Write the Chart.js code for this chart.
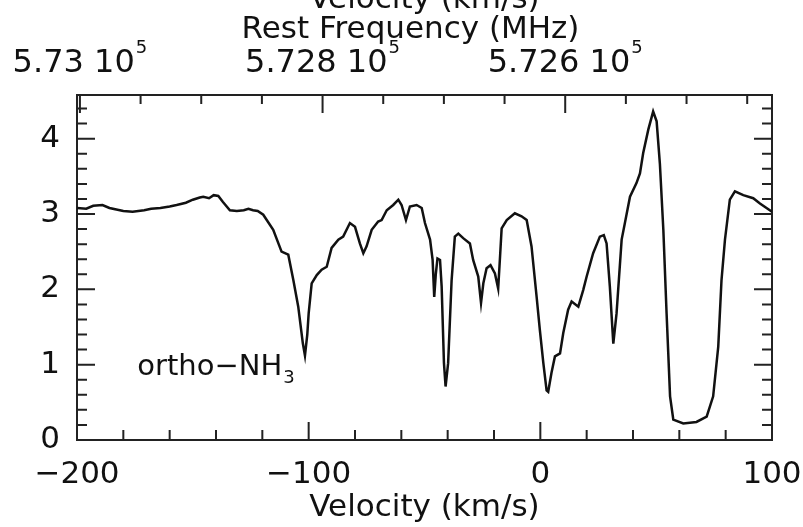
<!DOCTYPE html>
<html>
<head>
<meta charset="utf-8">
<script src="https://cdn.jsdelivr.net/npm/chart.js@4"></script>
<style>
  html, body { margin: 0; padding: 0; background: #fff; }
  canvas { display: block; }
</style>
</head>
<body>
<canvas id="chart" width="803" height="527"></canvas>
<script>
// ortho-NH3 spectrum, values
const velocity = [
  -200, -196, -193, -189, -186, -183, -180, -176, -171, -168,
  -164, -160, -157, -153, -150, -147, -145.5, -143, -141, -139,
  -137, -134, -131, -128, -126, -124, -122, -119.6, -115.3, -111.7,
  -108.8, -106.6, -104.5, -102.5, -101.6, -100.6, -100.0, -98.7, -96.5, -94.4,
  -92.2, -90.1, -87.2, -85.1, -82.2, -80.0, -77.9, -76.4, -75.0, -72.8,
  -70.0, -68.5, -66.3, -63.5, -61.3, -59.9, -58.0, -56.3, -53.4, -51.2,
  -49.8, -47.6, -46.5, -45.8, -45.1, -44.4, -43.3, -42.6, -41.6, -40.9,
  -39.8, -38.3, -36.9, -35.4, -33.3, -30.4, -29.0, -26.8, -25.6, -24.6,
  -23.2, -21.5, -19.6, -18.2, -17.4, -16.7, -14.5, -11.0, -8.1, -5.9,
  -3.8, -1.6, -0.2, 1.3, 2.7, 3.4, 4.8, 6.3, 8.5, 9.9,
  12.0, 13.5, 16.4, 18.5, 20.0, 22.8, 25.7, 27.4, 28.6, 30.0,
  31.5, 32.9, 35.1, 36.5, 38.7, 41.5, 43.0, 44.4, 46.6, 48.7,
  50.2, 51.6, 53.1, 54.5, 56.0, 57.4, 61.7, 67.4, 71.8, 74.6,
  76.8, 78.2, 79.7, 81.8, 84.0, 87.6, 91.9, 94.8, 100
];
const intensity = [
  3.08, 3.07, 3.11, 3.12, 3.08, 3.06, 3.04, 3.03, 3.05, 3.07,
  3.08, 3.10, 3.12, 3.15, 3.19, 3.22, 3.23, 3.21, 3.25, 3.24,
  3.16, 3.05, 3.04, 3.05, 3.07, 3.05, 3.04, 2.99, 2.79, 2.50,
  2.46, 2.12, 1.77, 1.28, 1.12, 1.40, 1.68, 2.08, 2.19, 2.26,
  2.30, 2.55, 2.66, 2.70, 2.88, 2.83, 2.61, 2.48, 2.57, 2.79,
  2.90, 2.92, 3.05, 3.12, 3.19, 3.12, 2.92, 3.10, 3.12, 3.08,
  2.88, 2.66, 2.39, 1.90, 2.21, 2.41, 2.39, 2.04, 1.02, 0.71,
  1.02, 2.12, 2.70, 2.74, 2.68, 2.61, 2.39, 2.17, 1.82, 2.08,
  2.28, 2.32, 2.21, 2.01, 2.43, 2.81, 2.92, 3.01, 2.97, 2.92,
  2.57, 1.90, 1.46, 1.02, 0.66, 0.64, 0.89, 1.11, 1.15, 1.42,
  1.73, 1.84, 1.77, 1.99, 2.17, 2.48, 2.70, 2.72, 2.61, 2.04,
  1.28, 1.68, 2.66, 2.88, 3.23, 3.41, 3.54, 3.81, 4.12, 4.36,
  4.23, 3.67, 2.79, 1.68, 0.58, 0.27, 0.22, 0.24, 0.31, 0.58,
  1.24, 2.12, 2.66, 3.19, 3.30, 3.25, 3.21, 3.14, 3.03
];

const freqTicks = [573000, 572800, 572600];
const freqLabels = ['5.73', '5.728', '5.726'];
const freqExponent = '5';

// 5.728e5 MHz sits at about -94 km/s; c/f0 = 0.5237 km/s per MHz
const kmsPerMHz = 0.5237;
const freqAt = v => 572800 - (v + 94) / kmsPerMHz;

const FONT = '"DejaVu Sans", Verdana, sans-serif';
const INK = '#111';
const AXIS = '#222';

// inward ticks on all four sides plus the texts that chart.js can't do
const framePlugin = {
  id: 'frame',
  afterDraw(chart) {
    const { ctx, chartArea: a, scales } = chart;
    ctx.save();
    ctx.strokeStyle = AXIS;
    ctx.lineWidth = 2;
    ctx.beginPath();
    for (let v = -200; v <= 100; v += 20) {
      const x = scales.x.getPixelForValue(v);
      const len = v % 100 === 0 ? 18 : 10;
      ctx.moveTo(x, a.bottom);
      ctx.lineTo(x, a.bottom - len);
    }
    for (let f = 573000; f >= scales.x2.min; f -= 50) {
      const x = scales.x2.getPixelForValue(f);
      const len = f % 200 === 0 ? 18 : 9;
      ctx.moveTo(x, a.top);
      ctx.lineTo(x, a.top + len);
    }
    for (let i = 0; i <= 22; i++) {
      const y = scales.y.getPixelForValue(i / 5);
      const len = i % 5 === 0 ? 18 : 10;
      ctx.moveTo(a.left, y);
      ctx.lineTo(a.left + len, y);
      ctx.moveTo(a.right, y);
      ctx.lineTo(a.right - len, y);
    }
    ctx.stroke();

    ctx.fillStyle = INK;
    ctx.textBaseline = 'alphabetic';
    ctx.textAlign = 'left';

    // top frequency labels, "5.73 10^5"
    freqTicks.forEach((f, i) => {
      const x = scales.x2.getPixelForValue(f);
      const main = freqLabels[i] + ' 10';
      ctx.font = '32px ' + FONT;
      const w1 = ctx.measureText(main).width;
      ctx.font = '18px ' + FONT;
      const w2 = ctx.measureText(freqExponent).width;
      const x0 = x - (w1 + w2 + 1) / 2;
      ctx.font = '32px ' + FONT;
      ctx.fillText(main, x0, 72);
      ctx.font = '18px ' + FONT;
      ctx.fillText(freqExponent, x0 + w1 + 1, 53);
    });

    const mid = (a.left + a.right) / 2;
    ctx.font = '31px ' + FONT;
    ctx.textAlign = 'center';
    ctx.fillText('Rest Frequency (MHz)', mid - 14, 38);
    ctx.fillText('Velocity (km/s)', mid, 8);

    // species label
    const lx = scales.x.getPixelForValue(-174);
    const ly = scales.y.getPixelForValue(0.86);
    ctx.textAlign = 'left';
    ctx.font = '29px ' + FONT;
    ctx.fillText('ortho\u2212NH', lx, ly);
    const w = ctx.measureText('ortho\u2212NH').width;
    ctx.font = '18px ' + FONT;
    ctx.fillText('3', lx + w + 1, ly + 8);
    ctx.restore();
  }
};

const border = { display: true, color: AXIS, width: 2 };
const noGrid = { display: false, drawTicks: false };

new Chart(document.getElementById('chart'), {
  type: 'line',
  data: {
    datasets: [{
      data: velocity.map((v, i) => ({ x: v, y: intensity[i] })),
      borderColor: INK,
      borderWidth: 2.5,
      pointRadius: 0,
      tension: 0,
      fill: false
    }]
  },
  options: {
    responsive: false,
    animation: false,
    devicePixelRatio: 1,
    layout: { padding: 0 },
    plugins: { legend: { display: false }, tooltip: { enabled: false } },
    scales: {
      x: {
        type: 'linear', position: 'bottom', min: -200, max: 100,
        afterFit: s => { s.height = 87; s.paddingLeft = 0; s.paddingRight = 0; },
        grid: noGrid, border: border,
        ticks: {
          stepSize: 100, padding: 16, maxRotation: 0, color: INK,
          font: { family: FONT, size: 31 },
          callback: v => String(v).replace('-', '\u2212')
        },
        title: {
          display: true, text: 'Velocity (km/s)', color: INK,
          font: { family: FONT, size: 31 }, padding: { top: 0, bottom: 0 }
        }
      },
      x2: {
        type: 'linear', position: 'top', min: freqAt(100), max: freqAt(-200), reverse: true,
        afterFit: s => { s.height = 95; s.paddingLeft = 0; s.paddingRight = 0; },
        grid: noGrid, border: border, ticks: { display: false }
      },
      y: {
        type: 'linear', position: 'left', min: 0, max: 4.58,
        afterFit: s => { s.width = 77; },
        grid: noGrid, border: border,
        ticks: {
          stepSize: 1, includeBounds: false, padding: 17, color: INK,
          font: { family: FONT, size: 31 }
        }
      },
      y2: {
        type: 'linear', position: 'right', min: 0, max: 4.58,
        afterFit: s => { s.width = 31; },
        grid: noGrid, border: border, ticks: { display: false }
      }
    }
  },
  plugins: [framePlugin]
});
</script>
</body>
</html>
